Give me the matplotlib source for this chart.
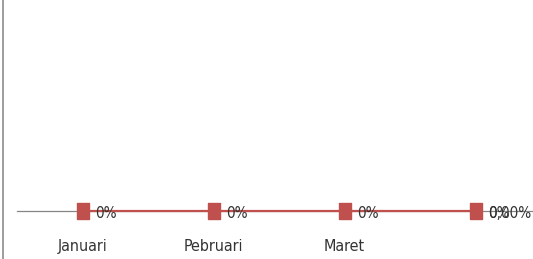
import matplotlib.pyplot as plt
from matplotlib.lines import Line2D

# data
categories = ["Januari", "Pebruari", "Maret", ""]
values = [0, 0, 0, 0]
point_labels = ["0%", "0%", "0%", "0%"]
extra_label = "0,00%"

plt.rcParams["font.family"] = ["DejaVu Sans"]
plt.rcParams["font.stretch"] = "condensed"

fig = plt.figure(figsize=(5.33, 2.59), dpi=100)
# plot area runs past the right edge, like the cropped original
ax = fig.add_axes([17 / 533, 48 / 259, 524 / 533, 200 / 259])

# tall square marker (the original picture is squeezed sideways)
box = [(-0.7, -1), (0.7, -1), (0.7, 1), (-0.7, 1), (-0.7, -1)]

x = list(range(len(categories)))
ax.plot(x, values, color="#C0504D", linewidth=1.6, marker=box, markersize=11.5,
        markerfacecolor="#C0504D", markeredgecolor="#C0504D", zorder=3, clip_on=False)

for xi, yi, lab in zip(x, values, point_labels):
    ax.annotate(lab, (xi, yi), xytext=(9, -1.5), textcoords="offset points",
                va="center", ha="left", fontsize=11, color="#333333", zorder=4)
# second label piled on the last point
ax.annotate(extra_label, (x[-1], values[-1]), xytext=(9, -1.5), textcoords="offset points",
            va="center", ha="left", fontsize=11, color="#333333", zorder=4)

ax.set_xlim(-0.5, 3.5)
ax.set_ylim(0, 1)
ax.set_xticks(x)
ax.set_xticklabels(categories, fontsize=11.5, color="#333333")
ax.tick_params(axis="x", length=0, pad=20)
ax.set_yticks([])
for side in ["left", "right", "top"]:
    ax.spines[side].set_visible(False)
ax.spines["bottom"].set_color("#868686")
ax.spines["bottom"].set_linewidth(0.9)

# left border of the chart frame
fig.add_artist(Line2D([2.5 / 533, 2.5 / 533], [0, 1], color="#8c8c8c", linewidth=1.2))

fig.savefig("out.png", dpi=100)
